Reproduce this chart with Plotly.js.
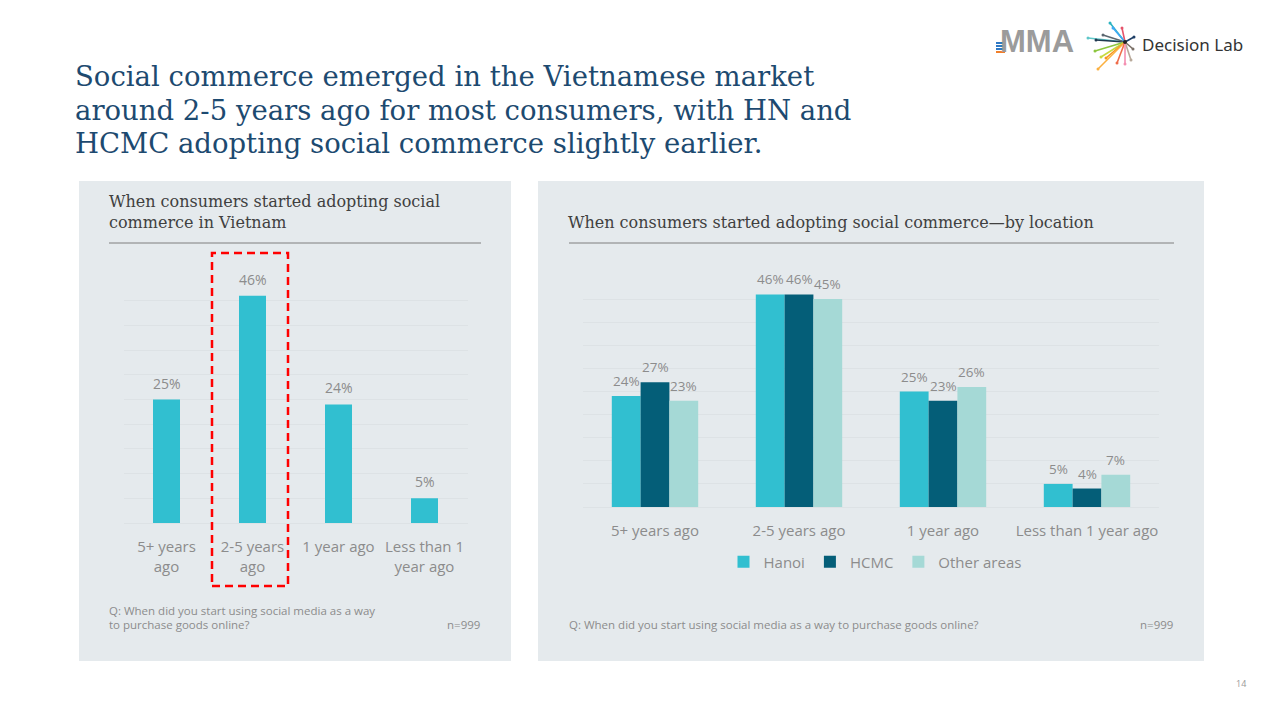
<!DOCTYPE html>
<html>
<head>
<meta charset="utf-8">
<script src="https://cdn.plot.ly/plotly-3.0.1.min.js"></script>
<style>html,body{margin:0;padding:0;background:#fff;}#chart{width:1280px;height:720px;}</style>
</head>
<body>
<div id="chart"></div>
<script>
// ---- data ----
const leftCategories = ['5+ years<br>ago', '2-5 years<br>ago', '1 year ago', 'Less than 1<br>year ago'];
const leftValues = [25, 46, 24, 5];

const rightCategories = ['5+ years ago', '2-5 years ago', '1 year ago', 'Less than 1 year ago'];
const hanoiValues = [24, 46, 25, 5];
const hcmcValues = [27, 46, 23, 4];
const otherValues = [23, 45, 26, 7];
const seriesNames = ['Hanoi', 'HCMC', 'Other areas'];
const seriesColors = ['#31bfd0', '#045e78', '#a5d9d6'];

// ---- helpers ----
const W = 1280, H = 720;
const px = x => x / W;
const py = y => 1 - y / H;
const gray = '#8c8c8c';
const sans = 'Open Sans, Noto Sans, sans-serif';
const serif = 'DejaVu Serif, serif';

const traces = [
  {
    type: 'bar', x: leftCategories, y: leftValues, xaxis: 'x', yaxis: 'y',
    marker: {color: seriesColors[0]}, width: 0.314, showlegend: false, hoverinfo: 'skip'
  }
];
[hanoiValues, hcmcValues, otherValues].forEach((vals, i) => {
  traces.push({
    type: 'bar', name: seriesNames[i], x: rightCategories, y: vals, xaxis: 'x2', yaxis: 'y2',
    marker: {color: seriesColors[i]}, hoverinfo: 'skip'
  });
});

const annotations = [];
// value labels, left chart
leftValues.forEach((v, i) => {
  annotations.push({xref: 'x', yref: 'y', x: i, y: v, text: v + '%', showarrow: false,
    yanchor: 'bottom', yshift: 5, font: {family: sans, size: 14, color: gray}});
});
// value labels, right chart
[hanoiValues, hcmcValues, otherValues].forEach((vals, s) => {
  vals.forEach((v, i) => {
    annotations.push({xref: 'x2', yref: 'y2', x: i + (s - 1) * 0.2, y: v, text: v + '%', showarrow: false,
      yanchor: 'bottom', yshift: 4, font: {family: sans, size: 13.5, color: gray}});
  });
});

function txt(x, y, text, opts) {
  annotations.push(Object.assign({xref: 'paper', yref: 'paper', x: px(x), y: py(y), text: text,
    showarrow: false, xanchor: 'left', yanchor: 'middle'}, opts));
}
const titleFont = {family: serif, size: 27.5, color: '#1d4a70'};
txt(73, 76, 'Social commerce emerged in the Vietnamese market', {font: titleFont});
txt(73, 110, 'around 2-5 years ago for most consumers, with HN and', {font: titleFont});
txt(73, 143, 'HCMC adopting social commerce slightly earlier.', {font: titleFont});

const subFont = {family: serif, size: 16, color: '#404040'};
txt(107, 201, 'When consumers started adopting social', {font: subFont});
txt(107, 222, 'commerce in Vietnam', {font: subFont});
txt(566, 222, 'When consumers started adopting social commerce\u2014by location', {font: subFont});

const noteFont = {family: sans, size: 11.5, color: gray};
txt(107, 610, 'Q: When did you start using social media as a way', {font: noteFont});
txt(107, 624, 'to purchase goods online?', {font: noteFont});
txt(482, 624, 'n=999', {font: noteFont, xanchor: 'right'});
txt(567, 624, 'Q: When did you start using social media as a way to purchase goods online?', {font: noteFont});
txt(1175, 624, 'n=999', {font: noteFont, xanchor: 'right'});
txt(1248, 683, '14', {font: {family: sans, size: 9, color: '#999999'}, xanchor: 'right'});

// logo text
txt(1076, 41, '<b>MMA</b>', {font: {family: 'Liberation Sans, Arial, sans-serif', size: 31, color: '#9b9b9b'}, xanchor: 'right'});
txt(1140, 44, 'Decision Lab', {font: {family: 'Noto Sans, sans-serif', size: 17, color: '#333333'}});

const shapes = [
  // panels
  {type: 'rect', xref: 'paper', yref: 'paper', x0: px(79), x1: px(511), y0: py(181), y1: py(661),
    fillcolor: '#e5eaed', line: {width: 0}, layer: 'below'},
  {type: 'rect', xref: 'paper', yref: 'paper', x0: px(538), x1: px(1204), y0: py(181), y1: py(661),
    fillcolor: '#e5eaed', line: {width: 0}, layer: 'below'},
  // underlines
  {type: 'line', xref: 'paper', yref: 'paper', x0: px(109), x1: px(481), y0: py(243), y1: py(243),
    line: {color: '#7f7f7f', width: 1}},
  {type: 'line', xref: 'paper', yref: 'paper', x0: px(569), x1: px(1174), y0: py(243), y1: py(243),
    line: {color: '#7f7f7f', width: 1}},
  // red dashed highlight
  {type: 'rect', xref: 'paper', yref: 'paper', x0: px(212), x1: px(288), y0: py(586), y1: py(253),
    line: {color: '#ff0000', width: 2.5, dash: '8px,5px'}, fillcolor: 'rgba(0,0,0,0)'}
];
// MMA stripes
[[43, '#2f78c4'], [46, '#2f78c4'], [49, '#2f78c4'], [52, '#f07f2a']].forEach(s => {
  shapes.push({type: 'line', xref: 'paper', yref: 'paper', x0: px(996), x1: px(1005), y0: py(s[0]), y1: py(s[0]),
    line: {color: s[1], width: 2}});
});
// Decision Lab starburst
const cx = 1125, cy = 42;
const rays = [[1110, 23, '#2bb3c0'], [1122, 28, '#e5536b'], [1134, 37, '#1e3f66'], [1133, 49, '#7a6f66'],
  [1131, 60, '#b8a99a'], [1088, 38, '#5fc7c9'], [1096, 40, '#203a50'], [1095, 51, '#8cc63f'],
  [1101, 57, '#c7d93d'], [1106, 58, '#f7941d'], [1098, 69, '#fbb040'], [1117, 63, '#ef6c4a'],
  [1125, 64, '#f48fb1'], [1103, 35, '#5b6770'], [1113, 28, '#3fa9f5']];
rays.forEach(r => {
  shapes.push({type: 'line', xref: 'paper', yref: 'paper', x0: px(cx), y0: py(cy), x1: px(r[0]), y1: py(r[1]),
    line: {color: r[2], width: 1.6}});
  shapes.push({type: 'circle', xref: 'paper', yref: 'paper', x0: px(r[0] - 1.5), x1: px(r[0] + 1.5),
    y0: py(r[1] - 1.5), y1: py(r[1] + 1.5), fillcolor: r[2], line: {width: 0}});
});
shapes.push({type: 'circle', xref: 'paper', yref: 'paper', x0: px(cx - 2), x1: px(cx + 2), y0: py(cy - 2), y1: py(cy + 2),
  fillcolor: '#222', line: {width: 0}});

const gridColor = '#dde2e5';
const tickFont = {family: sans, size: 15, color: gray};
const layout = {
  width: W, height: H,
  margin: {l: 0, r: 0, t: 0, b: 0},
  paper_bgcolor: '#ffffff',
  plot_bgcolor: 'rgba(0,0,0,0)',
  barmode: 'group', bargap: 0.4, bargroupgap: 0,
  showlegend: true,
  legend: {orientation: 'h', x: px(875), xanchor: 'center', y: py(562), yanchor: 'middle',
    font: {family: sans, size: 15, color: gray}, bgcolor: 'rgba(0,0,0,0)', itemwidth: 30, traceorder: 'normal'},
  xaxis: {domain: [px(123.5), px(467.5)], anchor: 'y', type: 'category', showgrid: false, showline: false,
    ticks: '', ticklabelstandoff: 13, tickfont: tickFont, fixedrange: true},
  yaxis: {domain: [py(523), py(276)], anchor: 'x', range: [0, 50], dtick: 5, showticklabels: false,
    gridcolor: gridColor, gridwidth: 1, zeroline: true, zerolinecolor: gridColor, zerolinewidth: 1, fixedrange: true},
  xaxis2: {domain: [px(583), px(1159)], anchor: 'y2', type: 'category', showgrid: false, showline: false,
    ticks: '', ticklabelstandoff: 13, tickfont: tickFont, fixedrange: true},
  yaxis2: {domain: [py(507), py(276)], anchor: 'x2', range: [0, 50], dtick: 5, showticklabels: false,
    gridcolor: gridColor, gridwidth: 1, zeroline: true, zerolinecolor: gridColor, zerolinewidth: 1, fixedrange: true},
  annotations: annotations,
  shapes: shapes
};

Plotly.newPlot('chart', traces, layout, {displayModeBar: false, staticPlot: true});
</script>
</body>
</html>
